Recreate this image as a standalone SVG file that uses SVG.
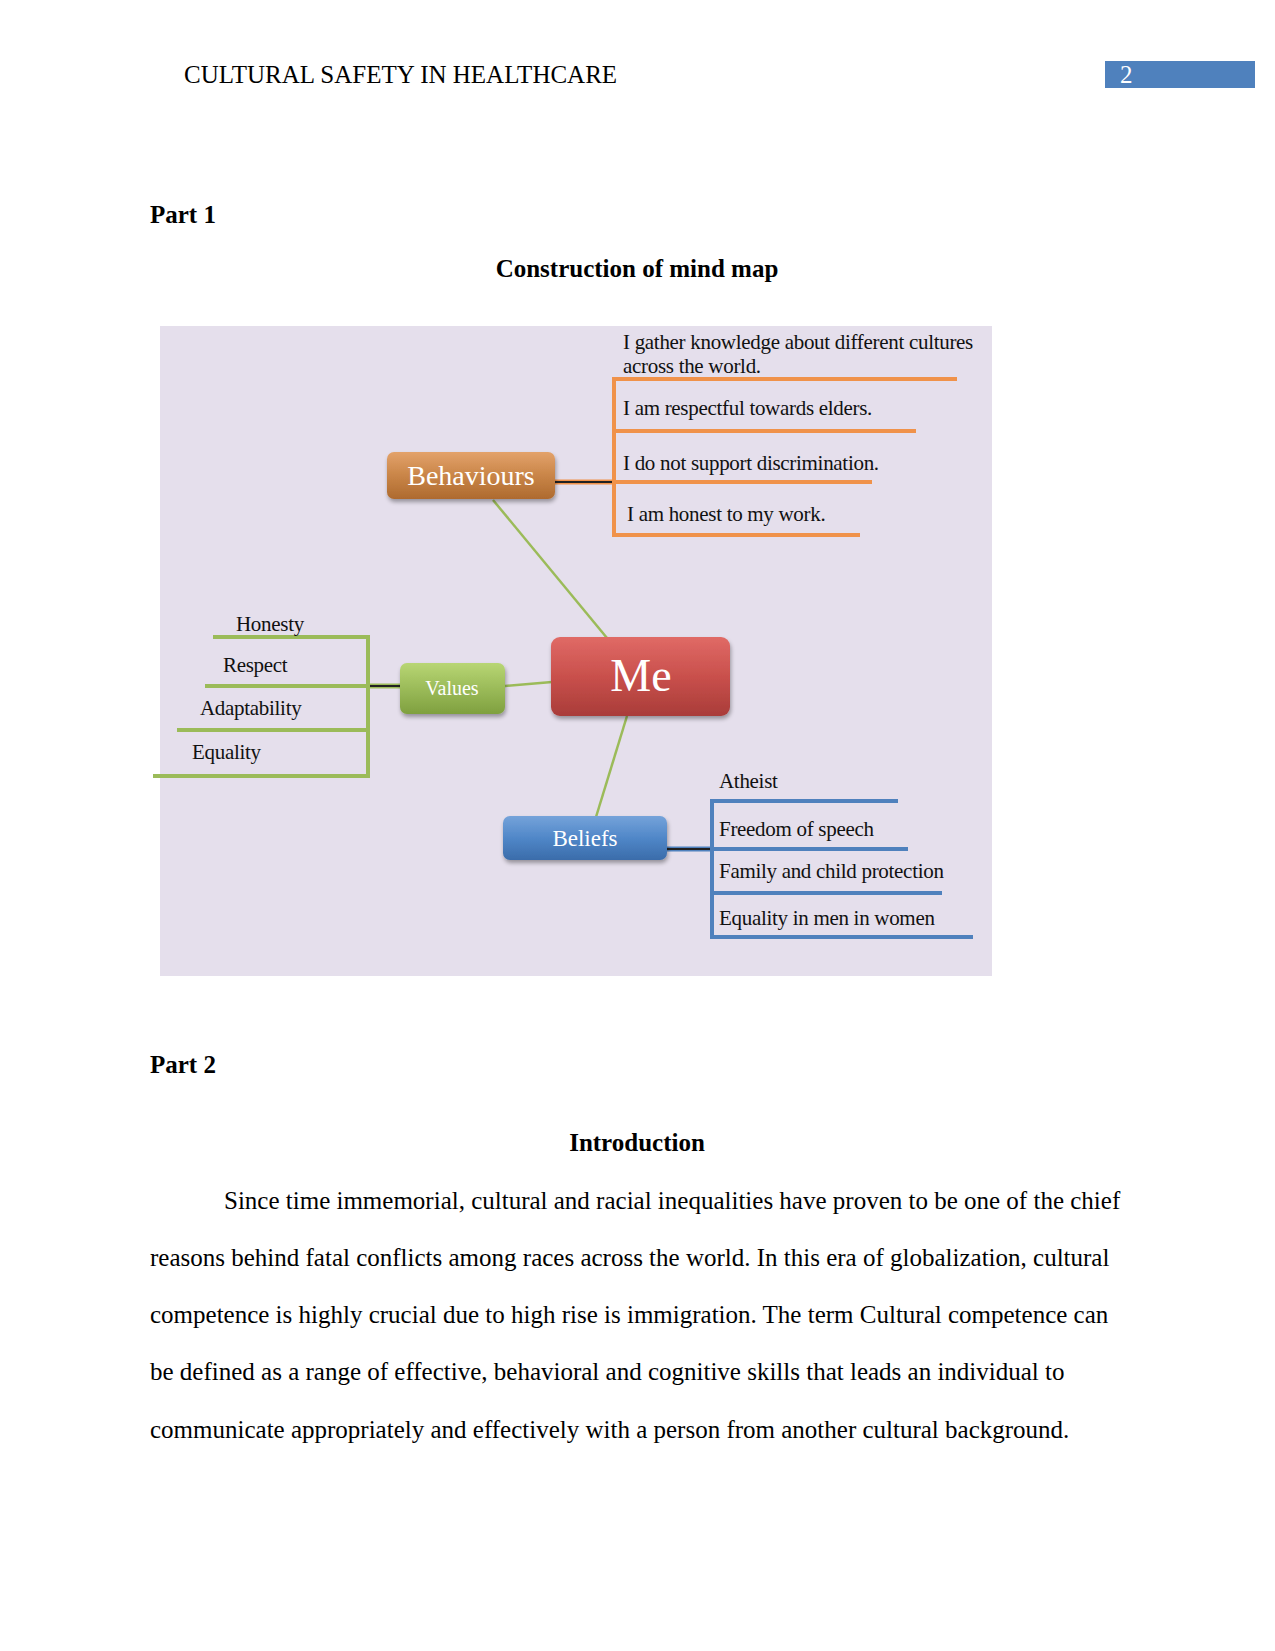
<svg xmlns="http://www.w3.org/2000/svg" width="1275" height="1651" viewBox="0 0 1275 1651">
<style>
.doc{font-family:"Liberation Serif","Times New Roman",serif;font-size:25px;fill:#000}
.b{font-weight:bold}
.lbl{font-family:"Liberation Serif","Times New Roman",serif;font-size:21px;fill:#111;letter-spacing:-0.3px}
.nodeT{font-family:"Liberation Serif","Times New Roman",serif;fill:#fff;text-anchor:middle}
.or{stroke:#F0924A;stroke-width:4;fill:none}
.gr{stroke:#9BBB59;stroke-width:4;fill:none}
.bl{stroke:#4F81BD;stroke-width:4;fill:none}
.link{stroke:#9BBB59;stroke-width:2.5;fill:none}
.dark{stroke:#222;stroke-width:2;fill:none}
</style>
<defs>
<linearGradient id="gOr" x1="0" y1="0" x2="0" y2="1"><stop offset="0" stop-color="#E3A26A"/><stop offset="0.5" stop-color="#C98548"/><stop offset="1" stop-color="#AE6A2E"/></linearGradient>
<linearGradient id="gRd" x1="0" y1="0" x2="0" y2="1"><stop offset="0" stop-color="#E06A66"/><stop offset="0.5" stop-color="#C9504C"/><stop offset="1" stop-color="#A93C39"/></linearGradient>
<linearGradient id="gGr" x1="0" y1="0" x2="0" y2="1"><stop offset="0" stop-color="#B8D674"/><stop offset="0.5" stop-color="#9BBB59"/><stop offset="1" stop-color="#7FA03F"/></linearGradient>
<linearGradient id="gBl" x1="0" y1="0" x2="0" y2="1"><stop offset="0" stop-color="#75A3DA"/><stop offset="0.5" stop-color="#5087C8"/><stop offset="1" stop-color="#3A6CAA"/></linearGradient>
<filter id="sh" x="-10%" y="-10%" width="130%" height="140%"><feGaussianBlur in="SourceAlpha" stdDeviation="2"/><feOffset dx="1" dy="3"/><feComponentTransfer><feFuncA type="linear" slope="0.35"/></feComponentTransfer><feMerge><feMergeNode/><feMergeNode in="SourceGraphic"/></feMerge></filter>
</defs>

<rect width="1275" height="1651" fill="#fff"/>

<g id="header">
<text class="doc" x="184" y="83">CULTURAL SAFETY IN HEALTHCARE</text>
<rect x="1105" y="61" width="150" height="27" fill="#4F81BD"/>
<text class="doc" x="1120" y="83" style="fill:#fff">2</text>
</g>

<text class="doc b" x="150" y="223">Part 1</text>
<text class="doc b" x="637" y="277" text-anchor="middle">Construction of mind map</text>

<rect x="160" y="326" width="832" height="650" fill="#E5DFEC"/>

<g id="connectors">
<line class="link" x1="493" y1="500" x2="607" y2="638"/>
<line class="link" x1="505" y1="686" x2="552" y2="682"/>
<line class="link" x1="627" y1="716" x2="596" y2="817"/>
<!-- behaviours branches -->
<line class="or" x1="555" y1="482" x2="614" y2="482" style="stroke-width:5"/>
<line class="dark" x1="555" y1="482" x2="614" y2="482"/>
<line class="or" x1="614" y1="379" x2="614" y2="537"/>
<line class="or" x1="612" y1="379" x2="957" y2="379"/>
<line class="or" x1="612" y1="431" x2="916" y2="431"/>
<line class="or" x1="612" y1="482" x2="872" y2="482"/>
<line class="or" x1="612" y1="535" x2="860" y2="535"/>
<!-- values branches -->
<line class="gr" x1="368" y1="686" x2="400" y2="686" style="stroke-width:5"/>
<line class="dark" x1="368" y1="686" x2="400" y2="686"/>
<line class="gr" x1="368" y1="637" x2="368" y2="778"/>
<line class="gr" x1="213" y1="637" x2="370" y2="637"/>
<line class="gr" x1="205" y1="686" x2="370" y2="686"/>
<line class="gr" x1="177" y1="730" x2="370" y2="730"/>
<line class="gr" x1="153" y1="776" x2="370" y2="776"/>
<!-- beliefs branches -->
<line class="bl" x1="666" y1="849" x2="712" y2="849" style="stroke-width:5"/>
<line class="dark" x1="666" y1="849" x2="712" y2="849"/>
<line class="bl" x1="712" y1="799" x2="712" y2="939"/>
<line class="bl" x1="710" y1="801" x2="898" y2="801"/>
<line class="bl" x1="710" y1="849" x2="908" y2="849"/>
<line class="bl" x1="710" y1="893" x2="942" y2="893"/>
<line class="bl" x1="710" y1="937" x2="973" y2="937"/>
</g>

<g id="behaviours">
<rect x="387" y="452" width="168" height="47" rx="7" fill="url(#gOr)" filter="url(#sh)"/>
<text class="nodeT" x="471" y="485" font-size="28">Behaviours</text>
</g>
<g id="me">
<rect x="551" y="637" width="179" height="79" rx="9" fill="url(#gRd)" filter="url(#sh)"/>
<text class="nodeT" x="641" y="691" font-size="46">Me</text>
</g>
<g id="values">
<rect x="400" y="663" width="105" height="51" rx="7" fill="url(#gGr)" filter="url(#sh)"/>
<text class="nodeT" x="452" y="695" font-size="20">Values</text>
</g>
<g id="beliefs">
<rect x="503" y="816" width="164" height="44" rx="7" fill="url(#gBl)" filter="url(#sh)"/>
<text class="nodeT" x="585" y="846" font-size="23">Beliefs</text>
</g>

<g id="behaviour-items">
<text class="lbl" x="623" y="349">I gather knowledge about different cultures</text>
<text class="lbl" x="623" y="373">across the world.</text>
<text class="lbl" x="623" y="415">I am respectful towards elders.</text>
<text class="lbl" x="623" y="470">I do not support discrimination.</text>
<text class="lbl" x="627" y="521">I am honest to my work.</text>
</g>
<g id="value-items">
<text class="lbl" x="236" y="631">Honesty</text>
<text class="lbl" x="223" y="672">Respect</text>
<text class="lbl" x="200" y="715">Adaptability</text>
<text class="lbl" x="192" y="759">Equality</text>
</g>
<g id="belief-items">
<text class="lbl" x="719" y="788">Atheist</text>
<text class="lbl" x="719" y="836">Freedom of speech</text>
<text class="lbl" x="719" y="878">Family and child protection</text>
<text class="lbl" x="719" y="925">Equality in men in women</text>
</g>

<text class="doc b" x="150" y="1073">Part 2</text>
<text class="doc b" x="637" y="1151" text-anchor="middle">Introduction</text>
<g id="body">
<text class="doc" x="224" y="1209">Since time immemorial, cultural and racial inequalities have proven to be one of the chief</text>
<text class="doc" x="150" y="1266">reasons behind fatal conflicts among races across the world. In this era of globalization, cultural</text>
<text class="doc" x="150" y="1323">competence is highly crucial due to high rise is immigration. The term Cultural competence can</text>
<text class="doc" x="150" y="1380">be defined as a range of effective, behavioral and cognitive skills that leads an individual to</text>
<text class="doc" x="150" y="1438">communicate appropriately and effectively with a person from another cultural background.</text>
</g>
</svg>
